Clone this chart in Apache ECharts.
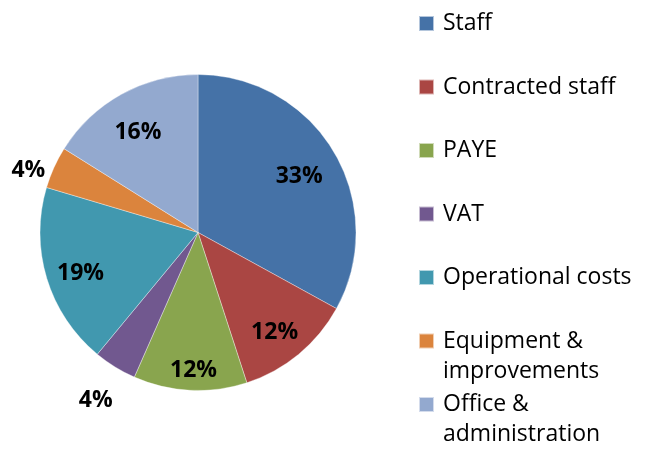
<!DOCTYPE html>
<html><head><meta charset="utf-8">
<script src="https://cdn.jsdelivr.net/npm/echarts@6/dist/echarts.min.js"></script>
<style>html,body{margin:0;padding:0;background:#fff}#c{width:649px;height:453px}</style>
</head><body><div id="c"></div>
<script>
const categories = ['Staff','Contracted staff','PAYE','VAT','Operational costs','Equipment &\nimprovements','Office &\nadministration'];
const values = [33, 12, 11.6, 4.4, 18.6, 4.3, 16.1];
const colors = ['#4572A7','#AA4643','#89A54E','#71588F','#4198AF','#DB843D','#93A9CF'];

const FONT = '"Open Sans"';
const cx = 198, cy = 232.5, R = 158;
// label nudges (px) from the ring midpoint, per slice index
const labelOffsets = {0: [-9, 9], 1: [-5, 1], 2: [2, 10], 3: [-35, 59], 4: [5, 4], 5: [-53, -9], 6: [2, 12]};
const LH = 30;

const legends = categories.map((name, i) => {
  const lines = name.split('\n').length;
  const c = 23.5 + i * 63.5;
  const shown = lines > 1 ? lines + (lines - 1) : 1;
  const padTop = lines > 1 ? 9 : 3;
  return {
    data: [name],
    left: 418,
    top: c - (LH * shown + padTop) / 2,
    orient: 'vertical',
    padding: 0,
    itemWidth: 15,
    itemHeight: 15,
    icon: 'rect',
    selectedMode: false,
    formatter: n => (n.indexOf('\n') >= 0 ? '\n' + n : n),
    textStyle: {
      fontFamily: FONT, fontSize: 23, color: '#000', lineHeight: LH,
      padding: [padTop, 0, 0, 4]
    }
  };
});

const chart = echarts.init(document.getElementById('c'), null, {renderer: 'canvas'});
chart.setOption({
  animation: false,
  color: colors,
  legend: legends,
  series: [
    {
      type: 'pie',
      center: [cx, cy],
      radius: [0, R],
      startAngle: 90,
      clockwise: true,
      label: {show: false},
      labelLine: {show: false},
      itemStyle: {borderColor: 'rgba(255,255,255,0.6)', borderWidth: 0.6},
      emphasis: {disabled: true},
      data: categories.map((n, i) => ({name: n, value: values[i]}))
    },
    {
      type: 'pie',
      center: [cx, cy],
      radius: [92, R],
      startAngle: 90,
      clockwise: true,
      silent: true,
      legendHoverLink: false,
      itemStyle: {color: 'rgba(0,0,0,0)', borderWidth: 0},
      labelLine: {show: false},
      emphasis: {disabled: true},
      label: {
        show: true, position: 'inside', color: '#000',
        fontFamily: FONT, fontSize: 23, fontWeight: 'bold',
        formatter: p => Math.round(p.percent) + '%'
      },
      data: categories.map((n, i) => ({
        name: n, value: values[i],
        label: labelOffsets[i] ? {offset: labelOffsets[i]} : {}
      }))
    }
  ]
});
</script></body></html>
